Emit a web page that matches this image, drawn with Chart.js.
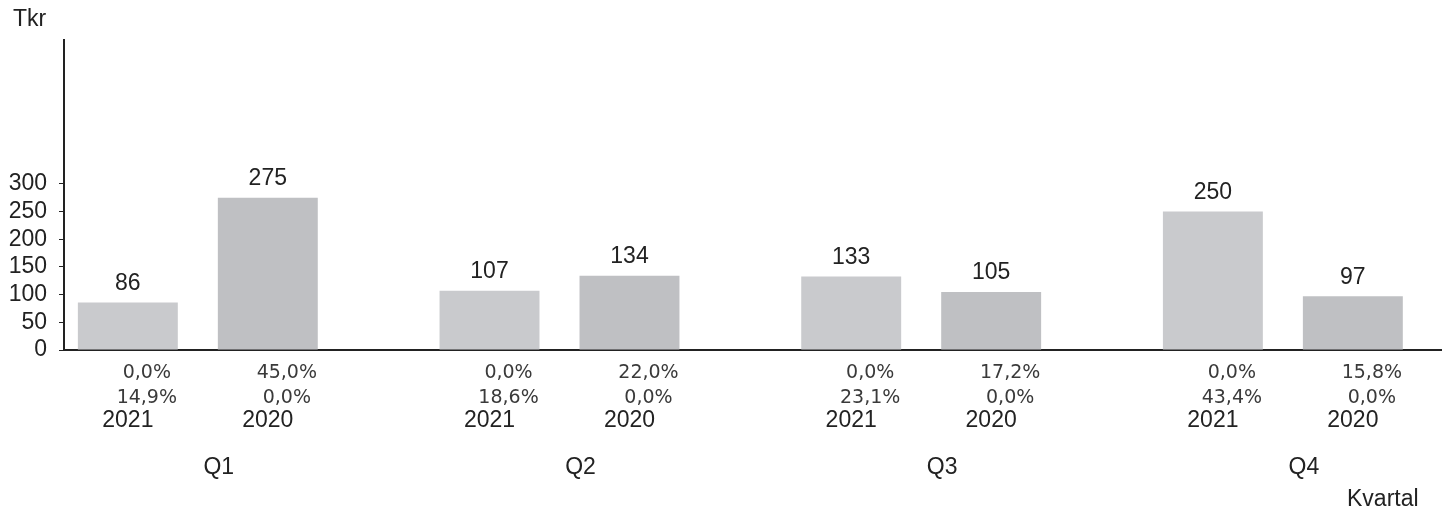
<!DOCTYPE html>
<html>
<head>
<meta charset="utf-8">
<script src="https://cdn.jsdelivr.net/npm/chart.js@4/dist/chart.umd.min.js"></script>
<style>
  html, body { margin: 0; padding: 0; background: #fff; overflow: hidden; }
  #wrap { position: relative; width: 1442px; height: 512px; }
</style>
</head>
<body>
<div id="wrap"><canvas id="kvartalChart" width="1442" height="512"></canvas></div>
<script>
// chart values
const quarters = ["Q1", "Q2", "Q3", "Q4"];
const years = ["2021", "2020"];
const values2021 = [86, 107, 133, 250];
const values2020 = [275, 134, 105, 97];
const pctTop2021 = ["0,0%", "0,0%", "0,0%", "0,0%"];
const pctBottom2021 = ["14,9%", "18,6%", "23,1%", "43,4%"];
const pctTop2020 = ["45,0%", "22,0%", "17,2%", "15,8%"];
const pctBottom2020 = ["0,0%", "0,0%", "0,0%", "0,0%"];
const yTicks = [0, 50, 100, 150, 200, 250, 300];

const sansFont = "'Liberation Sans', Arial, sans-serif";
const pctFont = "'DejaVu Sans', Verdana, sans-serif";
const inkColor = "#222";

// Labels above and below every bar, plus quarter and axis captions
const barLabels = {
    id: "barLabels",
    afterDatasetsDraw(chart) {
        const ctx = chart.ctx;
        const area = chart.chartArea;
        const pctRows = [[pctTop2021, pctBottom2021], [pctTop2020, pctBottom2020]];
        ctx.save();
        ctx.textBaseline = "middle";
        ctx.textAlign = "center";

        chart.data.datasets.forEach((ds, di) => {
            chart.getDatasetMeta(di).data.forEach((bar, i) => {
                // value above bar
                ctx.fillStyle = inkColor;
                ctx.font = "23px " + sansFont;
                ctx.fillText(String(ds.data[i].y), bar.x, bar.y - 19);

                // percentages below
                ctx.fillStyle = "#3a3a3a";
                ctx.font = "19px " + pctFont;
                ctx.fillText(pctRows[di][0][i], bar.x + 19, area.bottom + 23);
                ctx.fillText(pctRows[di][1][i], bar.x + 19, area.bottom + 48);

                // year
                ctx.fillStyle = inkColor;
                ctx.font = "23px " + sansFont;
                ctx.fillText(ds.label, bar.x, area.bottom + 71);
            });
        });

        // quarter names
        const xScale = chart.scales.x;
        ctx.font = "23px " + sansFont;
        quarters.forEach((q, i) => {
            ctx.fillText(q, xScale.getPixelForValue(i) + 21, area.bottom + 118);
        });

        // axis captions
        ctx.textAlign = "left";
        ctx.fillText("Tkr", 13, 20);
        ctx.fillText("Kvartal", 1347, 500);
        ctx.restore();
    }
};

const ctx = document.getElementById("kvartalChart").getContext("2d");
new Chart(ctx, {
    type: "bar",
    data: {
        datasets: [{
            label: years[0],
            data: values2021.map((v, i) => ({ x: i, y: v })),
            backgroundColor: "#c9cacd",
            borderWidth: 0
        }, {
            label: years[1],
            data: values2020.map((v, i) => ({ x: i, y: v })),
            backgroundColor: "#bfc0c3",
            borderWidth: 0
        }]
    },
    options: {
        responsive: false,
        devicePixelRatio: 1,
        animation: false,
        categoryPercentage: 0.774,
        barPercentage: 0.714,
        layout: { padding: { top: 40, left: 0, right: 0, bottom: 162 } },
        plugins: {
            legend: { display: false },
            tooltip: { enabled: false }
        },
        scales: {
            x: {
                type: "linear",
                offset: false,
                min: -0.37,
                max: 3.44,
                afterBuildTicks: scale => {
                    scale.ticks = quarters.map((q, i) => ({ value: i }));
                },
                afterFit: scale => { scale.height = 0; },
                ticks: { display: false },
                grid: { display: false },
                border: { display: true, color: inkColor, width: 2 }
            },
            y: {
                min: 0,
                max: 560,
                afterBuildTicks: scale => {
                    scale.ticks = yTicks.map(v => ({ value: v }));
                },
                afterFit: scale => { scale.width = 64; },
                ticks: {
                    color: inkColor,
                    padding: 12,
                    font: { family: sansFont, size: 23 }
                },
                grid: {
                    drawOnChartArea: false,
                    drawTicks: true,
                    tickLength: 5,
                    color: inkColor
                },
                border: { display: true, color: inkColor, width: 2 }
            }
        }
    },
    plugins: [barLabels]
});
</script>
</body>
</html>
